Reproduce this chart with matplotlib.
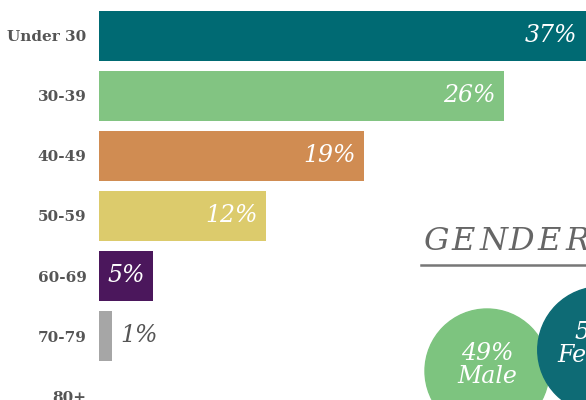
import matplotlib
matplotlib.use('Agg')
import matplotlib.pyplot as plt
from matplotlib.patches import Circle
import numpy as np

plt.rcParams['font.family'] = ['DejaVu Serif']

ages = ['Under 30', '30-39', '40-49', '50-59', '60-69', '70-79', '80+']
pct = [37, 26, 19, 12, 5, 1, 0]
# bar lengths as drawn in the picture (not quite proportional to the labels)
bar_len = [37, 30.5, 20.0, 12.6, 4.1, 0.98, 0]
colors = ['#006a73', '#82c482', '#d08c52', '#dccb6c', '#4b175c', '#a6a6a6', '#a6a6a6']

genders = ['Male', 'Female']
gender_pct = [49, 51]
gender_colors = ['#7dc47f', '#0e6b75']

W, H = 586, 400
fig = plt.figure(figsize=(W / 100, H / 100), dpi=100)

# bars
ax = fig.add_axes([99 / W, 0, 1 - 99 / W, 1])
y = np.arange(len(ages))
ax.barh(y, bar_len, height=50 / 60, color=colors, edgecolor='none')
ax.set_xlim(0, 487 / 13.27)
ax.set_ylim((400 - 36) / 60, -36 / 60)
ax.set_yticks(y)
ax.set_yticklabels(ages, fontsize=11, fontweight='bold', color='#555555')
ax.tick_params(axis='y', length=0, pad=9)
ax.set_xticks([])
for s in ax.spines.values():
    s.set_visible(False)

for i, (v, L) in enumerate(zip(pct, bar_len)):
    if v == 0:
        continue
    if L > 3:
        xe = min(L, 487 / 13.27)
        ax.annotate(f'{v}%', (xe, i), xytext=(-6, 0), textcoords='offset points',
                    ha='right', va='center', fontsize=17, style='italic', color='white')
    else:
        ax.annotate(f'{v}%', (L, i), xytext=(6, 0), textcoords='offset points',
                    ha='left', va='center', fontsize=17, style='italic', color='#555555')

# gender panel, pixel coords
ov = fig.add_axes([0, 0, 1, 1])
ov.set_xlim(0, W)
ov.set_ylim(H, 0)
ov.axis('off')

x = 423
for ch in 'GENDER':
    ov.text(x, 241, ch, fontsize=23, style='italic', color='#666666', ha='left', va='center')
    x += 28.5
ov.plot([421, W], [265, 265], color='#777777', lw=1.8)

centers = [(487, 371), (601, 350)]
for g, p, c, (cx, cy) in zip(genders, gender_pct, gender_colors, centers):
    r = 62 * np.sqrt(p / 49)
    ov.add_patch(Circle((cx, cy), r, color=c, zorder=2))
    ov.text(cx, cy - 6, f'{p}%\n{g}', ha='center', va='center', fontsize=17,
            style='italic', color='white', linespacing=1.05, zorder=3)

fig.savefig('out.png', dpi=100)
